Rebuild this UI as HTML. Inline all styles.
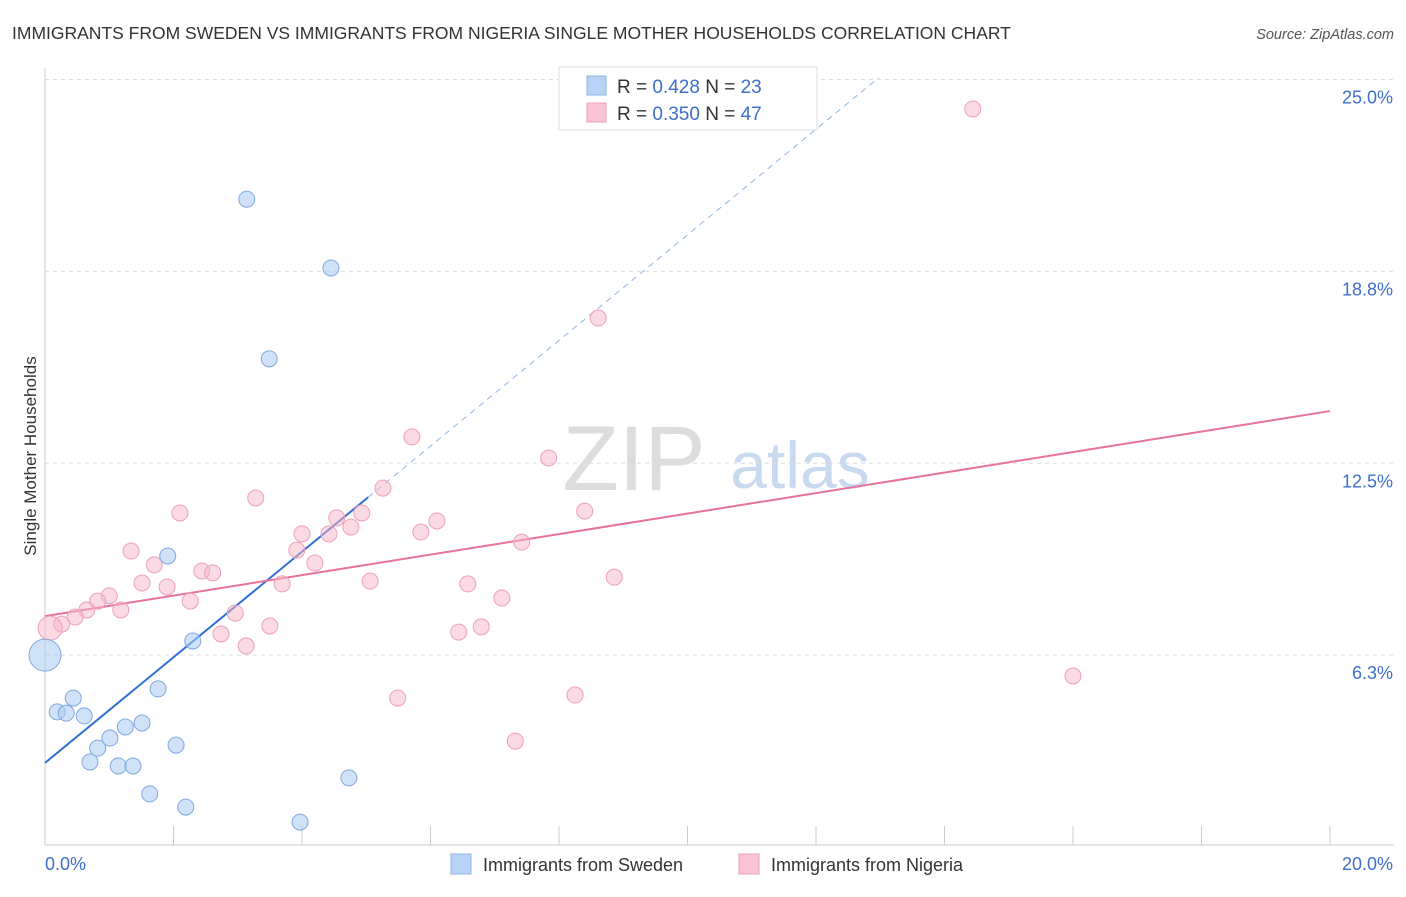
<!DOCTYPE html>
<html><head><meta charset="utf-8"><style>
body{margin:0;background:#fff;font-family:"Liberation Sans",sans-serif;}
svg text{font-family:"Liberation Sans",sans-serif;}
</style></head><body>
<svg id="chart" width="1406" height="892">
<text x="12" y="39" font-size="17.5" fill="#333">IMMIGRANTS FROM SWEDEN VS IMMIGRANTS FROM NIGERIA SINGLE MOTHER HOUSEHOLDS CORRELATION CHART</text>
<text x="1394" y="39" font-size="14.5" fill="#555" text-anchor="end" font-style="italic">Source: ZipAtlas.com</text>
<text x="36" y="456" font-size="17" fill="#333" text-anchor="middle" transform="rotate(-90 36 456)">Single Mother Households</text>
<g><text x="634" y="490" font-size="92" fill="#ddd" text-anchor="middle" font-family="Liberation Serif,serif">ZIP</text><text x="800" y="488" font-size="66" fill="#c8daf0" text-anchor="middle">atlas</text></g>
<g id="grid"></g><g id="axes"></g><g id="lines"></g><g id="pts"></g>
<g>
<rect x="559" y="67" width="258" height="63" fill="#fff" stroke="#ddd"/>
<rect x="587" y="76" width="19" height="19" fill="#b8d3f5" stroke="#8fb4e6"/>
<rect x="587" y="103" width="19" height="19" fill="#f9c5d4" stroke="#eda0b8"/>
<text x="617" y="93" font-size="19" fill="#333">R = <tspan fill="#3d6fcc">0.428</tspan>    N = <tspan fill="#3d6fcc">23</tspan></text>
<text x="617" y="120" font-size="19" fill="#333">R = <tspan fill="#3d6fcc">0.350</tspan>    N = <tspan fill="#3d6fcc">47</tspan></text>
</g>
<g>
<rect x="451" y="854" width="20" height="20" fill="#b8d3f5" stroke="#8fb4e6"/>
<text x="483" y="871" font-size="18" fill="#333">Immigrants from Sweden</text>
<rect x="739" y="854" width="20" height="20" fill="#f9c5d4" stroke="#eda0b8"/>
<text x="771" y="871" font-size="18" fill="#333">Immigrants from Nigeria</text>
</g>
</svg>
<script>
const yTicks=[6.25,12.5,18.75,25];
const yTickLabels=["6.3%","12.5%","18.8%","25.0%"];
const xTicks=[0,2,4,6,8,10,12,14,16,18,20];
const xEndLabels=["0.0%","20.0%"];
const swedenX=[3.14,4.45,3.49,1.91,2.30,1.76,0.44,0.19,0.33,0.61,1.25,1.51,1.01,0.82,2.04,0.70,1.14,1.37,1.63,2.19,3.97,4.73,0];
const swedenY=[21.1,18.86,15.9,9.48,6.71,5.15,4.85,4.40,4.36,4.27,3.91,4.04,3.55,3.22,3.32,2.77,2.64,2.64,1.73,1.30,0.81,2.25,6.25];
const nigeriaX=[14.44,8.61,5.71,7.84,5.26,3.28,2.10,8.40,4.54,4.93,6.10,5.85,4.76,4.00,4.42,3.92,7.42,1.34,1.70,2.44,2.61,1.51,1.90,4.20,5.06,3.69,6.58,8.86,1.00,0.82,2.26,7.11,1.18,0.65,0.47,0.26,2.96,3.50,6.79,6.44,2.74,3.13,5.49,8.25,16.00,7.32,0.08];
const nigeriaY=[24.04,17.23,13.36,12.67,11.69,11.37,10.88,10.94,10.72,10.88,10.62,10.26,10.42,10.20,10.20,9.67,9.93,9.64,9.19,8.99,8.93,8.60,8.47,9.25,8.66,8.57,8.57,8.79,8.18,8.01,8.01,8.11,7.72,7.72,7.49,7.26,7.62,7.20,7.17,7.00,6.94,6.55,4.85,4.95,5.57,3.45,7.13];
const swedenTrend=[2.74,1.72]; // intercept, slope
const nigeriaTrend=[7.52,0.334];
const swedenSolidEnd=5.03, swedenDashEnd=12.98;
const X=v=>45+v*64.25, Y=v=>847-v*30.7;
const NS="http://www.w3.org/2000/svg";
function mk(p,tag,a){const e=document.createElementNS(NS,tag);for(const k in a)e.setAttribute(k,a[k]);document.getElementById(p).appendChild(e);return e;}
yTicks.forEach((t,i)=>{
 const l=mk('grid','line',{x1:45,x2:1394,y1:Y(t),y2:Y(t),stroke:'#ddd','stroke-dasharray':'4,4'});
 
 
 const tx=mk('axes','text',{x:1393,y:Y(t)+24,'font-size':18,fill:'#3d6fcc','text-anchor':'end'});
 tx.textContent=yTickLabels[i];
 
 
});
const ax=mk('axes','line',{x1:45,x2:1394,y1:845,y2:845,stroke:'#ccc'});


const ay=mk('axes','line',{x1:45,x2:45,y1:68,y2:845,stroke:'#ccc'});


xTicks.forEach(t=>{const l=mk('axes','line',{x1:X(t),x2:X(t),y1:826,y2:845,stroke:'#ccc'});
 
 });
const xl0=mk('axes','text',{x:45,y:870,'font-size':18,fill:'#3d6fcc'});xl0.textContent=xEndLabels[0];


const xl1=mk('axes','text',{x:1393,y:870,'font-size':18,fill:'#3d6fcc','text-anchor':'end'});xl1.textContent=xEndLabels[1];


nigeriaX.forEach((x,i)=>{const c=mk('pts','circle',{cx:X(x),cy:Y(nigeriaY[i]),r:i==nigeriaX.length-1?12:8,fill:'rgba(247,182,201,0.5)',stroke:'#eda0b8'});
 
 });
swedenX.forEach((x,i)=>{const c=mk('pts','circle',{cx:X(x),cy:Y(swedenY[i]),r:i==swedenX.length-1?16:8,fill:'rgba(170,202,242,0.55)',stroke:'#7fa8e0'});
 
 });
const tb=v=>swedenTrend[0]+swedenTrend[1]*v, tp=v=>nigeriaTrend[0]+nigeriaTrend[1]*v;
const l1=mk('lines','line',{x1:X(0),y1:Y(tb(0)),x2:X(swedenSolidEnd),y2:Y(tb(swedenSolidEnd)),stroke:'#2f6fd6','stroke-width':2});


const l2=mk('lines','line',{x1:X(swedenSolidEnd),y1:Y(tb(swedenSolidEnd)),x2:X(swedenDashEnd),y2:Y(tb(swedenDashEnd)),stroke:'#8fb4e6','stroke-width':1,'stroke-dasharray':'6,5'});


const l3=mk('lines','line',{x1:X(0),y1:Y(tp(0)),x2:X(20),y2:Y(tp(20)),stroke:'#e8729a','stroke-width':2});


</script>
</body></html>
